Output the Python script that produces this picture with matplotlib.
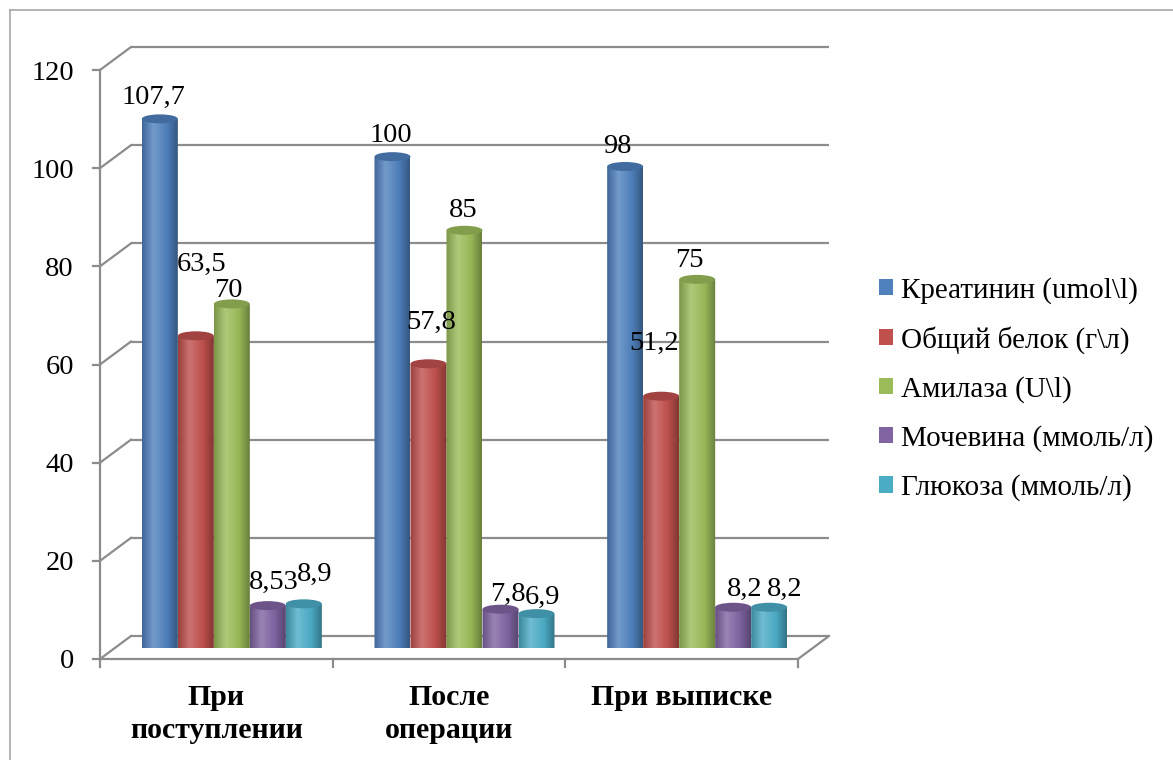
import numpy as np
import matplotlib
matplotlib.use("Agg")
import matplotlib.pyplot as plt
from matplotlib.patches import Ellipse, Polygon, Patch
from matplotlib.lines import Line2D
from matplotlib.colors import LinearSegmentedColormap, to_rgb

# ---------------- data ----------------
categories = ["При\nпоступлении", "После\nоперации", "При выписке"]
series_names = ["Креатинин (umol\\l)", "Общий белок (г\\л)", "Амилаза (U\\l)",
                "Мочевина (ммоль/л)", "Глюкоза (ммоль/л)"]
creatinine = [107.7, 100, 98]
protein = [63.5, 57.8, 51.2]
amylase = [70, 85, 75]
urea = [8.53, 7.8, 8.2]
glucose = [8.9, 6.9, 8.2]
y_ticks = [0, 20, 40, 60, 80, 100, 120]

# ---------------- style ----------------
colors = ["#4F81BD", "#C0504D", "#9BBB59", "#8064A2", "#4BACC6"]
grid_color = "#8c8c8c"
# data-label nudges in pixels (dx, dy) per series per category
label_offsets = [
    [(-6, 24), (-2, 24), (-8, 23)],
    [(6, 74), (3, 44), (-7, 56)],
    [(-3, 16), (-1, 23), (-8, 22)],
    [(6, 26), (7, 18), (12, 21)],
    [(11, 32), (6, 19), (16, 21)],
]

plt.rcParams["font.family"] = ["Liberation Serif", "DejaVu Serif"]

W, H = 1173, 760
fig = plt.figure(figsize=(W / 100, H / 100), dpi=100)
fig.patch.set_facecolor("white")

# plane of the bars (mid depth)
ax_l, ax_b, ax_w, ax_h = 115.5, 647.5, 698.0, 589.0
ax = fig.add_axes([ax_l / W, (H - ax_b) / H, ax_w / W, ax_h / H])
ax.axis("off")
ncat = len(categories)
ymax = y_ticks[-1]
px_x = ax_w / ncat
px_y = ax_h / ymax
DX = 15.5 / px_x   # half depth in data units
DY = 11.5 / px_y

lw = 1.6
# back wall gridlines + left wall diagonals
for y in y_ticks:
    ax.plot([0 + DX, ncat + DX], [y + DY, y + DY], color=grid_color, lw=lw,
            clip_on=False, zorder=1, solid_capstyle="butt")
    ax.plot([0 - DX, 0 + DX], [y - DY, y + DY], color=grid_color, lw=lw,
            clip_on=False, zorder=1)
    # tick marks on front axis
    ax.plot([-DX - 7 / px_x, -DX], [y - DY, y - DY], color=grid_color, lw=lw,
            clip_on=False, zorder=1)
    ax.text(-DX - 26 / px_x, y - DY, str(y), ha="right", va="center_baseline",
            fontsize=20.5, color="black")

# front value axis
ax.plot([-DX, -DX], [-DY, ymax - DY], color=grid_color, lw=lw, clip_on=False, zorder=1)
# floor front edge and right edge
ax.plot([-DX, ncat - DX], [-DY, -DY], color=grid_color, lw=lw, clip_on=False, zorder=1)
ax.plot([ncat - DX, ncat + DX], [-DY, DY], color=grid_color, lw=lw, clip_on=False, zorder=1)
# category ticks and labels
for i in range(ncat + 1):
    ax.plot([i - DX, i - DX], [-DY, -DY - 8 / px_y], color=grid_color, lw=lw,
            clip_on=False, zorder=1)
for i, cat in enumerate(categories):
    ax.text(i + 0.5 - DX, -DY - 25 / px_y, cat, ha="center", va="top",
            fontsize=21.5, fontweight="bold", color="black", linespacing=1.27)

# cylinders
series = [creatinine, protein, amylase, urea, glucose]
nser = len(series)
bw = 36 / px_x
eh = 9 / px_y
grad = np.linspace(0, 1, 64).reshape(1, -1)
t = np.linspace(np.pi, 2 * np.pi, 60)

for j, (vals, col) in enumerate(zip(series, colors)):
    c = np.array(to_rgb(col))
    light = c + (1 - c) * 0.2
    cmap = LinearSegmentedColormap.from_list(
        f"cyl{j}", [(0, c * 0.8), (0.32, light), (0.7, c * 0.98), (1, c * 0.68)])
    top_col = c * 0.84
    for i, v in enumerate(vals):
        xc = i + 0.5 + (j - (nser - 1) / 2) * bw
        xs = np.concatenate([xc + bw / 2 * np.cos(t), [xc + bw / 2, xc - bw / 2]])
        ys = np.concatenate([eh / 2 * np.sin(t), [v, v]])
        poly = Polygon(np.column_stack([xs, ys]), closed=True, facecolor="none",
                       edgecolor="none")
        ax.add_patch(poly)
        im = ax.imshow(grad, extent=[xc - bw / 2, xc + bw / 2, -eh / 2, v],
                       aspect="auto", cmap=cmap, interpolation="bilinear",
                       zorder=2 + j * 0.1)
        im.set_clip_path(poly)
        im.set_clip_box(None)
        ax.add_patch(Ellipse((xc, v), bw, eh, facecolor=top_col, edgecolor="none",
                             zorder=2.05 + j * 0.1, clip_on=False))
        dx, dy = label_offsets[j][i]
        ax.annotate(f"{v:g}".replace(".", ","), xy=(xc, v),
                    xytext=(dx * 0.72, dy * 0.72), textcoords="offset points",
                    ha="center", va="center_baseline", fontsize=20.5, zorder=10,
                    annotation_clip=False)

ax.set_xlim(0, ncat)
ax.set_ylim(0, ymax)

# legend
handles = [Patch(facecolor=c, edgecolor="none") for c in colors]
fig.legend(handles, series_names, loc="center left",
           bbox_to_anchor=(879 / W, (H - 389) / H), frameon=False, fontsize=21,
           handlelength=0.48, handleheight=0.48, handletextpad=0.28,
           labelspacing=0.76, borderpad=0, borderaxespad=0)

# outer chart border (top and left visible)
bc = "#a6a6a6"
fig.add_artist(Line2D([10 / W, 1], [1 - 10 / H, 1 - 10 / H], transform=fig.transFigure,
                      color=bc, lw=1.2))
fig.add_artist(Line2D([10 / W, 10 / W], [0, 1 - 10 / H], transform=fig.transFigure,
                      color=bc, lw=1.2))

fig.savefig("out.png", dpi=100, facecolor="white")
